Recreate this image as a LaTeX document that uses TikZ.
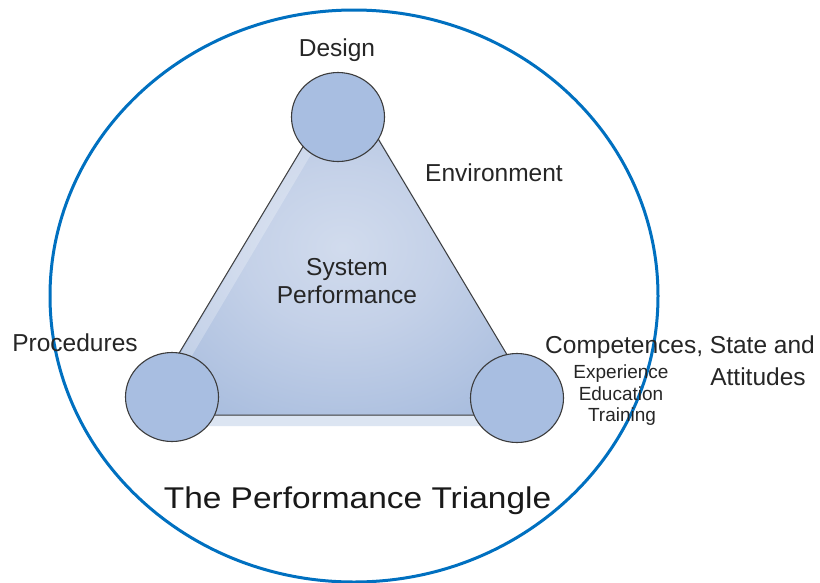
\documentclass[tikz,border=0pt]{standalone}
\usepackage{fontspec}
\setmainfont{Liberation Sans}
\newfontfamily\widefont[FakeStretch=1.115]{Liberation Sans}
\definecolor{ringblue}{RGB}{0,112,192}
\definecolor{discfill}{RGB}{168,190,225}
\definecolor{edgegray}{RGB}{60,60,60}
\definecolor{shadowblue}{RGB}{220,229,242}
\pgfdeclareradialshading{trishade}{\pgfpoint{0bp}{0bp}}{rgb(0bp)=(0.82,0.86,0.93); rgb(12bp)=(0.77,0.82,0.91); rgb(30bp)=(0.66,0.74,0.87); rgb(50bp)=(0.62,0.71,0.86)}
\tikzset{
  disc/.style={ellipse, minimum width=93pt, minimum height=89pt, fill=discfill, draw=edgegray, line width=1.1pt, inner sep=0pt},
  lbl/.style={anchor=base, inner sep=0pt, font=\fontsize{24.5}{28}\selectfont, text=black!85},
  small/.style={anchor=base, inner sep=0pt, font=\fontsize{19}{22}\selectfont, text=black!85},
}
\usetikzlibrary{shapes.geometric}
\begin{document}
\begin{tikzpicture}[x=1pt,y=-1pt]
\useasboundingbox (0,0) rectangle (820,582);
\fill[white] (0,0) rectangle (820,582);
% outer ring
\draw[ringblue, line width=3pt] (354,296) ellipse [x radius=304, y radius=286];
% triangle shadow
\fill[shadowblue] (349,88) -- (149,426) -- (550,426) -- cycle;
% triangle
\shade[shading=trishade, draw=edgegray, line width=1pt] (343,80) -- (142,415) -- (543,415) -- cycle;
\fill[white, opacity=0.25] (343,82) -- (145,413) -- (158,413) -- (345,97) -- cycle;
% corner discs
\node[disc] (top) at (338,117) {};
\node[disc] (left) at (172,397) {};
\node[disc] (right) at (517,398) {};
% labels
\node[lbl] (design) at (337,56) {Design};
\node[lbl] (env) at (494,181) {Environment};
\node[lbl] (sys) at (347,275) {System};
\node[lbl] (perf) at (347,303) {Performance};
\node[lbl] (proc) at (75,351) {Procedures};
\node[lbl, anchor=base west] (comp) at (545,353) {Competences, State and};
\node[lbl] (att) at (758,385) {Attitudes};
\node[small] (exp) at (621,378) {Experience};
\node[small] (edu) at (621,400) {Education};
\node[small] (tra) at (622,421) {Training};
\node[anchor=base, inner sep=0pt, font=\widefont\fontsize{30}{34}\selectfont, text=black!90] (title) at (357.5,508) {The Performance Triangle};
\end{tikzpicture}
\end{document}
